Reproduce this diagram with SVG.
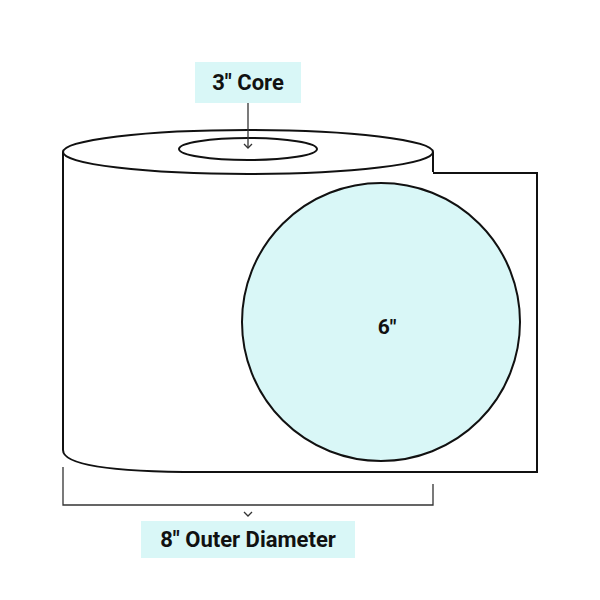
<svg xmlns="http://www.w3.org/2000/svg" width="600" height="600" viewBox="0 0 600 600">
<style>
.ln{fill:none;stroke:#111;stroke-width:2}
.thin{fill:none;stroke:#333;stroke-width:1.3}
.lbl{fill:#d9f7f7}
.t{font-family:Roboto,"Liberation Sans",sans-serif;font-weight:bold;fill:#111}
</style>
<rect width="600" height="600" fill="#fff"/>
<g id="roll">
<path class="ln" d="M63,152 L63,450 Q63,472 200,472 L433,472"/>
<ellipse class="ln" cx="248" cy="152" rx="185" ry="22" fill="#fff"/>
<ellipse class="ln" cx="248" cy="149" rx="69" ry="11"/>
<line class="ln" x1="433" y1="152" x2="433" y2="172"/>
</g>
<g id="label">
<path class="ln" d="M433,173 L537,173 L537,472 L433,472"/>
<circle cx="381" cy="322" r="139" fill="#d9f7f7" stroke="#111" stroke-width="2"/>
<text class="t" x="387" y="334" font-size="21" text-anchor="middle">6"</text>
</g>
<g id="core-label">
<rect class="lbl" x="195" y="62" width="106" height="41"/>
<text class="t" x="248" y="90" font-size="22" text-anchor="middle">3" Core</text>
</g>
<g id="outer-label">
<rect class="lbl" x="141" y="521" width="214" height="37"/>
<text class="t" x="248" y="547" font-size="22" text-anchor="middle">8" Outer Diameter</text>
</g>
<g id="connectors">
<line class="thin" x1="248" y1="103" x2="248" y2="148"/>
<path class="thin" d="M244,144 L248,148 L252,144"/>
<path class="thin" d="M63,467 L63,505 L433,505 L433,484"/>
<path class="thin" d="M244,512 L248,516 L252,512"/>
</g>
</svg>
